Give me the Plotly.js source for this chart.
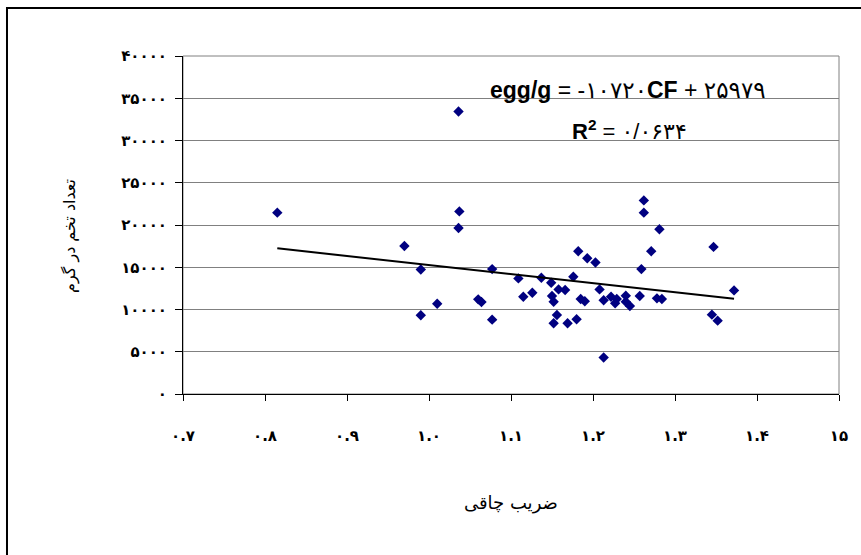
<!DOCTYPE html>
<html>
<head>
<meta charset="utf-8">
<script src="https://cdn.plot.ly/plotly-3.0.1.min.js"></script>
<style>html,body{margin:0;padding:0;background:#fff;}#chart{width:861px;height:555px;}</style>
</head>
<body>
<div id="chart"></div>
<script>
// Condition factor (CF) values
const cf = [0.815, 0.970, 0.990, 0.990, 1.010, 1.036, 1.037, 1.036, 1.060, 1.064,
            1.077, 1.077, 1.109, 1.115, 1.126, 1.137, 1.149, 1.150, 1.152, 1.156,
            1.152, 1.158, 1.166, 1.169, 1.176, 1.180, 1.182, 1.185, 1.190, 1.193,
            1.203, 1.208, 1.213, 1.213, 1.222, 1.229, 1.227, 1.240, 1.240, 1.245,
            1.257, 1.259, 1.262, 1.262, 1.271, 1.278, 1.281, 1.284, 1.345, 1.347,
            1.352, 1.372];
// Eggs per gram
const eggs = [21460, 17520, 14740, 9320, 10680, 33440, 21610, 19650, 11200, 10880,
              14780, 8800, 13680, 11510, 11980, 13750, 13160, 11590, 10920, 9350,
              8370, 12380, 12300, 8370, 13870, 8840, 16900, 11240, 10970, 16070,
              15570, 12380, 11090, 4320, 11510, 11240, 10730, 11630, 10920, 10410,
              11590, 14780, 22910, 21460, 16900, 11320, 19490, 11240, 9390, 17410,
              8680, 12260];
// Trendline from the chart's equation
const slope = -10720;
const intercept = 25979;

const xTickVals = [0.7, 0.8, 0.9, 1.0, 1.1, 1.2, 1.3, 1.4, 1.5];
const xTickText = ["۰.۷", "۰.۸", "۰.۹", "۱.۰", "۱.۱", "۱.۲", "۱.۳", "۱.۴", "۱۵"];
const yTickVals = [0, 5000, 10000, 15000, 20000, 25000, 30000, 35000, 40000];
const yTickText = ["۰", "۵۰۰۰", "۱۰۰۰۰", "۱۵۰۰۰", "۲۰۰۰۰", "۲۵۰۰۰", "۳۰۰۰۰", "۳۵۰۰۰", "۴۰۰۰۰"];

const xTitle = "ضریب چاقی";
const yTitle = "تعداد تخم در گرم";
const eqText = "<b>egg/g</b> = -۱۰۷۲۰<b>CF</b> + ۲۵۹۷۹";
const r2Text = "<b>R<sup>2</sup></b> = ۰/۰۶۳۴";

const xMin = Math.min(...cf), xMax = Math.max(...cf);
const trendX = [xMin, xMax];
const trendY = trendX.map(v => slope * v + intercept);

const data = [
  {
    x: cf, y: eggs, type: 'scatter', mode: 'markers',
    marker: {symbol: 'diamond', size: 8, color: '#000080'},
    hoverinfo: 'skip', cliponaxis: false
  },
  {
    x: trendX, y: trendY, type: 'scatter', mode: 'lines',
    line: {color: '#000000', width: 2}, hoverinfo: 'skip'
  }
];

const fa = 'DejaVu Sans, sans-serif';
const tickFont = {family: 'DejaVu Sans, sans-serif', size: 15, color: '#000000', weight: 'bold'};
const layout = {
  width: 861, height: 555,
  margin: {l: 183, r: 22, t: 56, b: 161},
  paper_bgcolor: '#ffffff', plot_bgcolor: '#ffffff',
  showlegend: false,
  font: {family: fa, color: '#000000'},
  xaxis: {
    range: [0.7, 1.5], tickvals: xTickVals, ticktext: xTickText,
    showgrid: false, zeroline: false,
    showline: true, linecolor: '#000000', linewidth: 1,
    ticks: 'outside', ticklen: 6, tickcolor: '#000000',
    ticklabelstandoff: 22,
    tickfont: tickFont
  },
  yaxis: {
    range: [0, 40000], tickvals: yTickVals, ticktext: yTickText,
    showgrid: true, gridcolor: '#808080', gridwidth: 1, zeroline: false,
    showline: true, linecolor: '#000000', linewidth: 1,
    ticks: 'outside', ticklen: 7, tickcolor: '#000000',
    ticklabelstandoff: 5,
    tickfont: tickFont
  },
  shapes: [
    {type: 'rect', xref: 'paper', yref: 'paper', x0: 0, x1: 1, y0: 0, y1: 1,
     line: {color: '#808080', width: 1}, layer: 'below'},
    {type: 'rect', xref: 'paper', yref: 'paper', x0: -0.2683, x1: 1.3, y0: -1, y1: 1.142,
     line: {color: '#000000', width: 2}, layer: 'below'}
  ],
  annotations: [
    {text: eqText, xref: 'paper', yref: 'paper', x: 0.678, y: 0.899,
     xanchor: 'center', yanchor: 'middle', showarrow: false,
     font: {family: 'Liberation Sans, DejaVu Sans, sans-serif', size: 23, color: '#000000'}},
    {text: r2Text, xref: 'paper', yref: 'paper', x: 0.681, y: 0.782,
     xanchor: 'center', yanchor: 'middle', showarrow: false,
     font: {family: 'Liberation Sans, DejaVu Sans, sans-serif', size: 22, color: '#000000'}},
    {text: xTitle, xref: 'paper', yref: 'paper', x: 0.5, y: (394 - 503) / 338,
     xanchor: 'center', yanchor: 'middle', showarrow: false,
     font: {family: fa, size: 18, color: '#000000'}},
    {text: yTitle, xref: 'paper', yref: 'paper', x: (70 - 183) / 656, y: (394 - 236) / 338,
     xanchor: 'center', yanchor: 'middle', showarrow: false, textangle: -90,
     font: {family: fa, size: 16, color: '#000000'}}
  ]
};

Plotly.newPlot('chart', data, layout, {staticPlot: true, displayModeBar: false});
</script>
</body>
</html>
